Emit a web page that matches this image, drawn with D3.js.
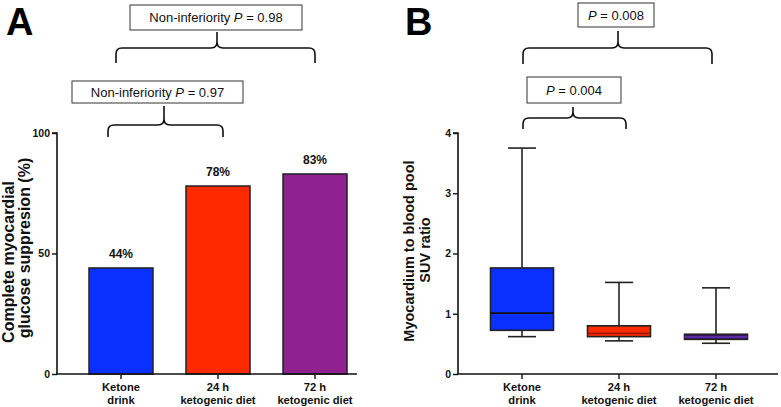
<!DOCTYPE html>
<html><head><meta charset="utf-8">
<script src="https://cdn.jsdelivr.net/npm/d3@7"></script>
<style>
body{margin:0;background:#fff;}
svg{display:block;font-family:"Liberation Sans",Arial,sans-serif;}
</style></head>
<body>
<svg id="c" width="781" height="407"></svg>
<script>
// ---- data ----
const categories = ["Ketone drink", "24 h ketogenic diet", "72 h ketogenic diet"];
const catLines = [["Ketone","drink"],["24 h","ketogenic diet"],["72 h","ketogenic diet"]];
const suppression = [44, 78, 83];            // % complete myocardial glucose suppression
const suppressionLabels = ["44%", "78%", "83%"];
const barColors = ["#0a30ff", "#ff2a00", "#8f2190"];
const yTicksA = [0, 50, 100];
// box plot: [min, q1, median, q3, max]
const boxMin = [0.62, 0.55, 0.51];
const boxQ1 = [0.725, 0.62, 0.575];
const boxMedian = [1.01, 0.675, 0.615];
const boxQ3 = [1.76, 0.80, 0.66];
const boxMax = [3.75, 1.52, 1.43];
const boxColors = ["#0a30ff", "#ff2a00", "#3a1265"];
const medianColors = ["#111", "#9a1a00", "#6a34b8"];
const yTicksB = [0, 1, 2, 3, 4];
const compA = [{a:0,b:1,text:"Non-inferiority ",p:"0.97"},{a:0,b:2,text:"Non-inferiority ",p:"0.98"}];
const compB = [{a:0,b:1,text:"",p:"0.004"},{a:0,b:2,text:"",p:"0.008"}];

const svg = d3.select("#c");

function bracketPath(x1, x2, xm, yH, yEnd, yTop){
  const r = 6;
  return `M${x1},${yEnd} L${x1},${yH+r} Q${x1},${yH} ${x1+r},${yH} L${xm-r},${yH} Q${xm},${yH} ${xm},${yH-r} L${xm},${yTop}` +
         ` M${xm},${yH-r} Q${xm},${yH} ${xm+r},${yH} L${x2-r},${yH} Q${x2},${yH} ${x2},${yH+r} L${x2},${yEnd}`;
}

function drawBox(g, x0, x1, y0, y1, prefix, p){
  g.append("rect").attr("x",x0).attr("y",y0).attr("width",x1-x0).attr("height",y1-y0)
    .attr("fill","#fff").attr("stroke","#333").attr("stroke-width",1);
  const t = g.append("text").attr("x",(x0+x1)/2).attr("y",(y0+y1)/2+4.5)
    .attr("text-anchor","middle").attr("font-size",13).attr("fill","#111");
  if(prefix) t.append("tspan").text(prefix);
  t.append("tspan").attr("font-style","italic").text("P");
  t.append("tspan").text(" = " + p);
}

function xAxis(g, x, x0, x1, yBase){
  g.append("line").attr("x1",x0).attr("x2",x1).attr("y1",yBase).attr("y2",yBase)
    .attr("stroke","#111").attr("stroke-width",1.6);
  categories.forEach((c,i)=>{
    const cx = x(c);
    g.append("line").attr("x1",cx).attr("x2",cx).attr("y1",yBase).attr("y2",yBase+5)
      .attr("stroke","#111").attr("stroke-width",1.4);
    const t = g.append("text").attr("x",cx).attr("y",yBase+17).attr("text-anchor","middle")
      .attr("font-size",11.2).attr("font-weight","bold").attr("fill","#111");
    t.append("tspan").attr("x",cx).text(catLines[i][0]);
    t.append("tspan").attr("x",cx).attr("dy",13).text(catLines[i][1]);
  });
}

function yAxis(g, y, ticks, xBase, yLo, yHi){
  const ax = d3.axisLeft(y).tickValues(ticks).tickFormat(d3.format("d")).tickSize(5).tickSizeOuter(0).tickPadding(2);
  const a = g.append("g").attr("transform",`translate(${xBase},0)`).call(ax);
  a.attr("font-size",null).attr("font-family",null);
  a.select(".domain").attr("stroke","#111").attr("stroke-width",1.6)
    .attr("d",`M-5,${yHi}H0V${yLo}`);
  a.selectAll(".tick line").attr("stroke","#111").attr("stroke-width",1.4);
  a.selectAll(".tick text").attr("font-size",10.5).attr("font-weight","bold").attr("fill","#111")
    .attr("font-family","Liberation Sans, Arial, sans-serif");
}

// ---------- Panel A ----------
const gA = svg.append("g");
const xA = d3.scalePoint().domain(categories).range([121, 315]);
const yA = d3.scaleLinear().domain([0,100]).range([374,133]);
const barW = 64;

gA.append("text").attr("x",6).attr("y",35).attr("font-size",38).attr("font-weight","bold").attr("fill","#000").text("A");

gA.selectAll("rect.bar").data(suppression).enter().append("rect").attr("class","bar")
  .attr("x",(d,i)=>xA(categories[i])-barW/2).attr("width",barW)
  .attr("y",d=>yA(d)).attr("height",d=>yA(0)-yA(d))
  .attr("fill",(d,i)=>barColors[i]).attr("stroke","#222").attr("stroke-width",1.5);

gA.selectAll("text.lbl").data(suppression).enter().append("text").attr("class","lbl")
  .attr("x",(d,i)=>xA(categories[i])).attr("y",d=>yA(d)-10)
  .attr("text-anchor","middle").attr("font-size",12).attr("font-weight","bold").attr("fill","#111")
  .text((d,i)=>suppressionLabels[i]);

yAxis(gA, yA, yTicksA, 57, 374, 133);
xAxis(gA, xA, 56, 357, 374);

const tA = gA.append("text").attr("transform","rotate(-90)").attr("text-anchor","middle")
  .attr("font-size",16).attr("font-weight","bold").attr("fill","#111");
tA.append("tspan").attr("x",-262).attr("y",14).text("Complete myocardial");
tA.append("tspan").attr("x",-248).attr("y",30).text("glucose suppresion (%)");

// brackets A
gA.append("path").attr("d",bracketPath(108, 223, 164, 125, 137, 106))
  .attr("fill","none").attr("stroke","#111").attr("stroke-width",1.6);
drawBox(gA, 72, 243, 81, 103, compA[0].text, compA[0].p);
gA.append("path").attr("d",bracketPath(116, 315, 217, 48, 63, 32))
  .attr("fill","none").attr("stroke","#111").attr("stroke-width",1.6);
drawBox(gA, 130, 302, 5, 30, compA[1].text, compA[1].p);

// ---------- Panel B ----------
const gB = svg.append("g");
const xB = d3.scalePoint().domain(categories).range([522, 716]);
const yB = d3.scaleLinear().domain([0,4]).range([374,133]);
const boxW = 63, capW = 28;

gB.append("text").attr("x",405).attr("y",35).attr("font-size",38).attr("font-weight","bold").attr("fill","#000").text("B");

categories.forEach((c,i)=>{
  const cx = xB(c);
  const g = gB.append("g");
  g.append("line").attr("x1",cx).attr("x2",cx).attr("y1",yB(boxMax[i])).attr("y2",yB(boxQ3[i]))
    .attr("stroke","#222").attr("stroke-width",1.6);
  g.append("line").attr("x1",cx).attr("x2",cx).attr("y1",yB(boxQ1[i])).attr("y2",yB(boxMin[i]))
    .attr("stroke","#222").attr("stroke-width",1.6);
  g.append("line").attr("x1",cx-capW/2).attr("x2",cx+capW/2).attr("y1",yB(boxMax[i])).attr("y2",yB(boxMax[i]))
    .attr("stroke","#222").attr("stroke-width",1.6);
  g.append("line").attr("x1",cx-capW/2).attr("x2",cx+capW/2).attr("y1",yB(boxMin[i])).attr("y2",yB(boxMin[i]))
    .attr("stroke","#222").attr("stroke-width",1.6);
  g.append("rect").attr("x",cx-boxW/2).attr("width",boxW)
    .attr("y",yB(boxQ3[i])).attr("height",yB(boxQ1[i])-yB(boxQ3[i]))
    .attr("fill",boxColors[i]).attr("stroke","#222").attr("stroke-width",1.6);
  g.append("line").attr("x1",cx-boxW/2).attr("x2",cx+boxW/2).attr("y1",yB(boxMedian[i])).attr("y2",yB(boxMedian[i]))
    .attr("stroke",medianColors[i]).attr("stroke-width",1.6);
});

yAxis(gB, yB, yTicksB, 458, 374, 133);
xAxis(gB, xB, 457, 778, 374);

const tB = gB.append("text").attr("transform","rotate(-90)").attr("text-anchor","middle")
  .attr("font-size",14.5).attr("font-weight","bold").attr("fill","#111");
tB.append("tspan").attr("x",-251).attr("y",414).text("Myocardium to blood pool");
tB.append("tspan").attr("x",-250).attr("y",430).text("SUV ratio");

gB.append("path").attr("d",bracketPath(523, 626, 573, 118, 129, 107))
  .attr("fill","none").attr("stroke","#111").attr("stroke-width",1.6);
drawBox(gB, 527, 621, 77, 103, compB[0].text, compB[0].p);
gB.append("path").attr("d",bracketPath(523, 712, 618, 48, 64, 31))
  .attr("fill","none").attr("stroke","#111").attr("stroke-width",1.6);
drawBox(gB, 578, 654, 3, 27, compB[1].text, compB[1].p);
</script>
</body></html>
